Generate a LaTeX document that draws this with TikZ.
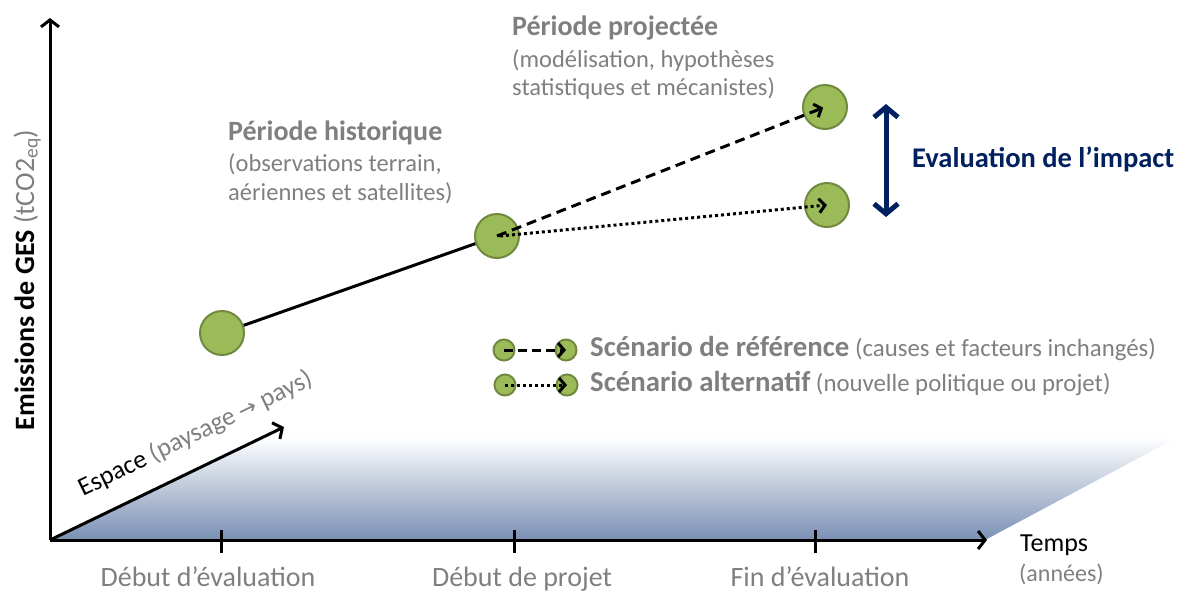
\documentclass[tikz,border=0pt]{standalone}
\usepackage{fontspec}
\setmainfont{Carlito}
\newfontfamily\symfont{DejaVu Sans}
\usetikzlibrary{arrows.meta}
\definecolor{txtgray}{RGB}{127,127,127}
\definecolor{navy}{RGB}{0,32,96}
\definecolor{greenfill}{RGB}{155,187,89}
\definecolor{greenline}{RGB}{113,137,63}
\definecolor{shadebot}{RGB}{122,144,180}
\definecolor{shademid}{RGB}{188,204,232}
\begin{document}
\begin{tikzpicture}[x=1pt,y=-1pt,
  axisline/.style={line width=3pt,-{Straight Barb[length=7pt,width=18pt,line width=3pt]}},
  tickline/.style={line width=3pt},
  dot/.style={circle,minimum size=44pt,inner sep=0pt,fill=greenfill,draw=greenline,line width=2pt},
  smalldot/.style={circle,minimum size=21pt,inner sep=0pt,fill=greenfill,draw=greenline,line width=2pt},
  solidcon/.style={line width=3pt},
  dashcon/.style={line width=3pt,dash pattern=on 10pt off 6pt,-{Straight Barb[length=6pt,width=14pt,line width=3pt]}},
  dotcon/.style={line width=3pt,dash pattern=on 3pt off 3pt,-{Straight Barb[length=6pt,width=14pt,line width=3pt]}},
  navyarrow/.style={navy,line width=5pt,{Straight Barb[length=10pt,width=24pt,line width=5pt]}-{Straight Barb[length=10pt,width=24pt,line width=5pt]}},
  headtxt/.style={anchor=base west,inner sep=0pt,text=txtgray,font=\bfseries\fontsize{28}{30}\selectfont},
  subtxt/.style={anchor=base west,inner sep=0pt,text=txtgray,font=\fontsize{24.5}{28}\selectfont},
  ticktxt/.style={anchor=base,inner sep=0pt,text=txtgray,font=\fontsize{28}{30}\selectfont},
  legtxt/.style={anchor=base west,inner sep=0pt,text=txtgray,font=\fontsize{24.8}{28}\selectfont}
]
\useasboundingbox (0,0) rectangle (1182,590);
% shaded plane
\shade[top color=white,middle color=shademid,bottom color=shadebot]
  (50,540) -- (264,437) -- (1178,437) -- (985,540) -- cycle;
% axes
\coordinate (O) at (50,540);
\coordinate (ytop) at (50,18);
\coordinate (xend) at (987,540);
\coordinate (sp) at (284,427);
\draw[axisline] (O) -- (ytop);
\draw[axisline] (O) -- (xend);
\draw[axisline] (O) -- (sp);
% ticks
\coordinate (t1a) at (221,530); \coordinate (t1b) at (221,553);
\coordinate (t2a) at (514,530); \coordinate (t2b) at (514,553);
\coordinate (t3a) at (815,530); \coordinate (t3b) at (815,553);
\draw[tickline] (t1a) -- (t1b);
\draw[tickline] (t2a) -- (t2b);
\draw[tickline] (t3a) -- (t3b);
\node[ticktxt] (tl1) at (208,586) {Début d’évaluation};
\node[ticktxt] (tl2) at (522,586) {Début de projet};
\node[ticktxt] (tl3) at (820,586) {Fin d’évaluation};
\node[anchor=base west,inner sep=0pt,font=\fontsize{26}{30}\selectfont] (temps) at (1020,551) {Temps};
\node[anchor=base west,inner sep=0pt,text=txtgray,font=\fontsize{24}{28}\selectfont] (annees) at (1019,581) {(années)};
% y label
\node[rotate=90,anchor=base,inner sep=0pt,font=\bfseries\fontsize{28}{30}\selectfont] (ylab) at (34,280)
  {Emissions de GES {\mdseries\color{txtgray}(tCO2\textsubscript{eq})}};
% espace label
\node[rotate=26,anchor=base west,inner sep=0pt,font=\fontsize{26}{30}\selectfont] (esp) at (83,497)
  {Espace {\color{txtgray}(paysage {\symfont\fontsize{22}{26}\selectfont →} pays)}};
% period labels
\node[headtxt] (h1) at (228,140) {Période historique};
\node[subtxt] (h2) at (228,171) {(observations terrain,};
\node[subtxt] (h3) at (228,200) {aériennes et satellites)};
\node[headtxt] (p1) at (512,35) {Période projectée};
\node[subtxt] (p2) at (512,67) {(modélisation, hypothèses};
\node[subtxt] (p3) at (512,95) {statistiques et mécanistes)};
% circles
\node[dot] (c1) at (222,333) {};
\node[dot] (c2) at (497,236) {};
\node[dot] (c3) at (825,107) {};
\node[dot] (c4) at (827,205) {};
\draw[solidcon] (c1) -- (c2);
\draw[dashcon,shorten >=2pt] (c2.center) -- (c3.center);
\draw[dotcon] ([xshift=3pt]c2.center) -- (c4.center);
% impact
\coordinate (ia) at (886,104);
\coordinate (ib) at (886,217);
\draw[navyarrow] (ia) -- (ib);
\node[anchor=base west,inner sep=0pt,text=navy,font=\bfseries\fontsize{28.5}{30}\selectfont] (imp) at (912,167) {Evaluation de l’impact};
% legend
\node[smalldot] (l1a) at (504,350) {};
\node[smalldot] (l1b) at (566,350) {};
\node[smalldot] (l2a) at (505,385) {};
\node[smalldot] (l2b) at (567,385) {};
\draw[dashcon,dash pattern=on 9pt off 5pt] (l1a.center) -- (l1b.center);
\draw[dotcon] (l2a.center) -- (l2b.center);
\node[legtxt] (leg1) at (590,356) {{\bfseries\fontsize{28.8}{30}\selectfont Scénario de référence} (causes et facteurs inchangés)};
\node[legtxt] (leg2) at (590,391) {{\bfseries\fontsize{28.8}{30}\selectfont Scénario alternatif} (nouvelle politique ou projet)};
\end{tikzpicture}
\end{document}
